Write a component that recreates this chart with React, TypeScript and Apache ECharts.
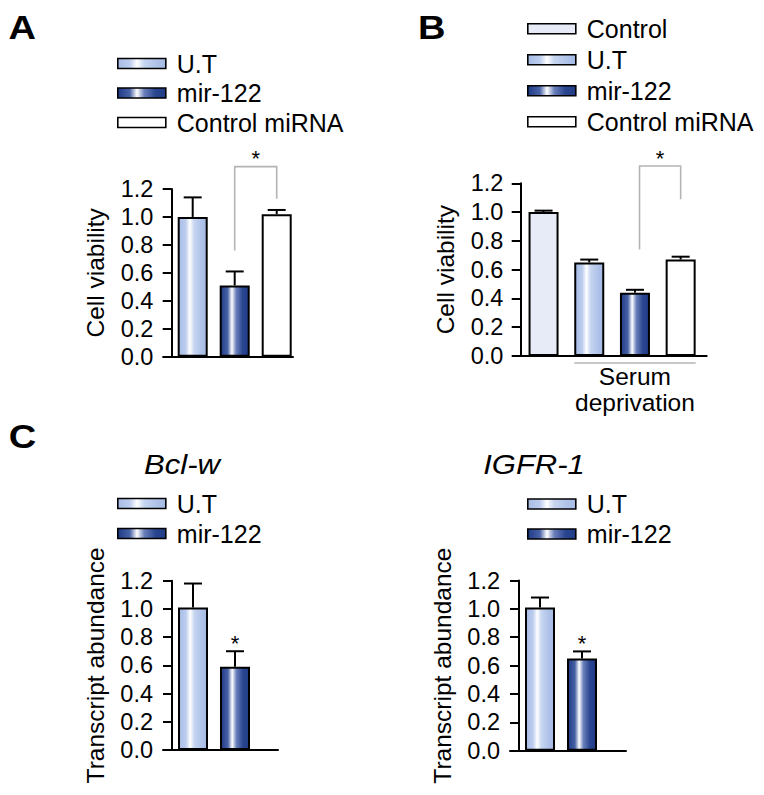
import React, { useEffect, useRef } from 'react';
import * as echarts from 'echarts';

const FONT = '"Liberation Sans", Arial, Helvetica, sans-serif';

// ---------- Data ----------
// Panel A
const panelACategories = ['U.T', 'mir-122', 'Control miRNA'];
const panelAValues = [1.0, 0.51, 1.02];
const panelAErrors = [0.14, 0.1, 0.03];
// bracket: [x1, x2, top, leftBottom, rightBottom] in data units
const panelABracket = [1.5, 2.5, 1.36, 0.76, 1.13];

// Panel B
const panelBCategories = ['Control', 'U.T', 'mir-122', 'Control miRNA'];
const panelBValues = [1.0, 0.65, 0.44, 0.67];
const panelBErrors = [0.01, 0.02, 0.02, 0.02];
const panelBBracket = [2.6, 3.5, 1.32, 0.74, 1.09];
const panelBGroup = [1.5, 3.5];
const panelBGroupLabel = 'Serum\ndeprivation';

// Panel C
const panelCCategories = ['U.T', 'mir-122'];
const bclwValues = [1.01, 0.59];
const bclwErrors = [0.17, 0.11];
const igfrValues = [1.01, 0.65];
const igfrErrors = [0.07, 0.05];
const panelCSignificant = [false, true];
const panelCTitles = ['Bcl-w', 'IGFR-1'];

const yTickLabels = ['0.0', '0.2', '0.4', '0.6', '0.8', '1.0', '1.2'];
const yAxisTitles = ['Cell viability', 'Cell viability', 'Transcript abundance', 'Transcript abundance'];
const panelLetters = ['A', 'B', 'C'];

// ---------- Styles ----------
const grad = (stops: [number, string][]) =>
  new echarts.graphic.LinearGradient(0, 0, 1, 0, stops.map(([offset, color]) => ({ offset, color })));

const FILLS: Record<string, any> = {
  'U.T': grad([
    [0, '#a6bbe5'],
    [0.25, '#bccdee'],
    [0.4, '#ffffff'],
    [0.55, '#c6d5f0'],
    [0.8, '#b0c3e9'],
    [1, '#a5bae4'],
  ]),
  'mir-122': grad([
    [0, '#1f3b86'],
    [0.25, '#4862a6'],
    [0.4, '#ffffff'],
    [0.55, '#6a80bb'],
    [0.78, '#2b4690'],
    [1, '#203c87'],
  ]),
  Control: '#e6ebf7',
  'Control miRNA': '#ffffff',
};

// pixel layout of each plotting panel
const layouts = [
  { left: 163.3, top: 189, right: 293, bottom: 356.7, axisX: 171.7, unit: 42 },
  { left: 513.3, top: 183.3, right: 706.7, bottom: 356, axisX: 520.7, unit: 45.7 },
  { left: 163, top: 580.7, right: 278, bottom: 750, axisX: 172, unit: 42 },
  { left: 510, top: 580.5, right: 626, bottom: 750.7, axisX: 519, unit: 42 },
];

const panels = [
  { cats: panelACategories, vals: panelAValues, errs: panelAErrors, sig: null as boolean[] | null },
  { cats: panelBCategories, vals: panelBValues, errs: panelBErrors, sig: null as boolean[] | null },
  { cats: panelCCategories, vals: bclwValues, errs: bclwErrors, sig: panelCSignificant },
  { cats: panelCCategories, vals: igfrValues, errs: igfrErrors, sig: panelCSignificant },
];

function buildOption() {
  const grid: any[] = [];
  const xAxis: any[] = [];
  const yAxis: any[] = [];
  const series: any[] = [];

  layouts.forEach((L, g) => {
    grid.push({ left: L.left, top: L.top, width: L.right - L.left, height: L.bottom - L.top });
    xAxis.push({
      gridIndex: g,
      type: 'value',
      min: (L.left - L.axisX) / L.unit,
      max: (L.right - L.axisX) / L.unit,
      axisLine: { show: true, onZero: true, lineStyle: { color: '#000', width: 2 } },
      axisTick: { show: false },
      axisLabel: { show: false },
      splitLine: { show: false },
    });
    yAxis.push({
      gridIndex: g,
      type: 'value',
      min: 0,
      max: 1.2,
      interval: 0.2,
      axisLine: { show: true, onZero: true, lineStyle: { color: '#000', width: 2 } },
      axisTick: { show: true, length: 9, lineStyle: { color: '#000', width: 2 } },
      axisLabel: {
        color: '#000',
        fontSize: 23.5,
        fontFamily: FONT,
        margin: 10,
        formatter: (v: number) => yTickLabels[Math.round(v / 0.2)],
      },
      splitLine: { show: false },
      name: yAxisTitles[g],
      nameLocation: 'middle',
      nameGap: 55,
      nameRotate: 90,
      nameTextStyle: { color: '#000', fontSize: 24.5, fontFamily: FONT },
    });

    const P = panels[g];
    P.cats.forEach((cat, i) => {
      series.push({
        type: 'bar',
        name: cat,
        xAxisIndex: g,
        yAxisIndex: g,
        data: [[i + 0.5, P.vals[i]]],
        barWidth: 30,
        barGap: '-100%',
        itemStyle: { color: FILLS[cat], borderColor: '#000', borderWidth: 2 },
        emphasis: { disabled: true },
        z: 2,
      });
    });

    // error bars (+ significance stars)
    series.push({
      type: 'custom',
      xAxisIndex: g,
      yAxisIndex: g,
      clip: false,
      z: 3,
      data: P.vals.map((v, i) => [i + 0.5, v, P.errs[i], P.sig && P.sig[i] ? 1 : 0]),
      encode: { x: 0, y: 1 },
      renderItem: (params: any, api: any) => {
        const x = api.value(0);
        const v = api.value(1);
        const e = api.value(2);
        const s = api.value(3);
        const p0 = api.coord([x, v]);
        const p1 = api.coord([x, v + e]);
        const st = { stroke: '#000', lineWidth: 2 };
        const children: any[] = [
          { type: 'line', shape: { x1: p0[0], y1: p0[1], x2: p1[0], y2: p1[1] }, style: st },
          { type: 'line', shape: { x1: p1[0] - 9, y1: p1[1], x2: p1[0] + 9, y2: p1[1] }, style: st },
        ];
        if (s) {
          children.push({
            type: 'text',
            style: {
              text: '*',
              x: p1[0],
              y: p1[1] - 8,
              align: 'center',
              verticalAlign: 'middle',
              fontSize: 22,
              fontFamily: FONT,
              fill: '#000',
            },
          });
        }
        return { type: 'group', children };
      },
    });
  });

  // significance brackets for A and B
  [panelABracket, panelBBracket].forEach((b, g) => {
    series.push({
      type: 'custom',
      xAxisIndex: g,
      yAxisIndex: g,
      clip: false,
      z: 3,
      data: [b],
      encode: { x: [0, 1], y: [2, 3, 4] },
      renderItem: (params: any, api: any) => {
        const x1 = api.value(0);
        const x2 = api.value(1);
        const top = api.value(2);
        const lb = api.value(3);
        const rb = api.value(4);
        const a = api.coord([x1, lb]);
        const bT = api.coord([x1, top]);
        const c = api.coord([x2, top]);
        const d = api.coord([x2, rb]);
        return {
          type: 'group',
          children: [
            {
              type: 'polyline',
              shape: { points: [a, bT, c, d] },
              style: { stroke: '#b4b4b4', lineWidth: 1.6, fill: 'none' },
            },
            {
              type: 'text',
              style: {
                text: '*',
                x: (bT[0] + c[0]) / 2,
                y: bT[1] - 8,
                align: 'center',
                verticalAlign: 'middle',
                fontSize: 22,
                fontFamily: FONT,
                fill: '#000',
              },
            },
          ],
        };
      },
    });
  });

  // group line + label under panel B
  series.push({
    type: 'custom',
    xAxisIndex: 1,
    yAxisIndex: 1,
    clip: false,
    z: 3,
    data: [panelBGroup],
    encode: { x: [0, 1] },
    renderItem: (params: any, api: any) => {
      const p1 = api.coord([api.value(0), 0]);
      const p2 = api.coord([api.value(1), 0]);
      const y = p1[1] + 7;
      return {
        type: 'group',
        children: [
          {
            type: 'line',
            shape: { x1: p1[0] - 15, y1: y, x2: p2[0] + 15, y2: y },
            style: { stroke: '#b4b4b4', lineWidth: 1.6 },
          },
          {
            type: 'text',
            style: {
              text: panelBGroupLabel,
              x: (p1[0] + p2[0]) / 2,
              y: y,
              align: 'center',
              verticalAlign: 'top',
              fontSize: 24.5,
              lineHeight: 26,
              fontFamily: FONT,
              fill: '#000',
            },
          },
        ],
      };
    },
  });

  const legendBase = {
    orient: 'vertical',
    icon: 'rect',
    padding: 0,
    itemWidth: 48,
    itemHeight: 10,
    selectedMode: false,
    itemStyle: { borderColor: '#000', borderWidth: 1.6 },
    textStyle: { color: '#000', fontSize: 25, fontFamily: FONT, lineHeight: 24, padding: [0, 0, 0, 6] },
  };

  const legend = [
    { ...legendBase, left: 117, top: 51, itemGap: 4.5, data: panelACategories },
    { ...legendBase, left: 527, top: 16.3, itemGap: 6, data: panelBCategories },
    { ...legendBase, left: 117, top: 491, itemGap: 5, data: panelCCategories },
    { ...legendBase, left: 527, top: 491.5, itemGap: 5, data: panelCCategories },
  ];

  const letterPos = [
    [22.3, 27.2],
    [431.7, 27.5],
    [22.5, 436.7],
  ];
  const titlePos = [
    [182, 464.6],
    [534, 464.5],
  ];

  const graphic: any[] = [
    ...panelLetters.map((t, i) => ({
      type: 'text',
      x: letterPos[i][0],
      y: letterPos[i][1],
      scaleX: 1.12,
      style: {
        text: t,
        fontSize: 34,
        fontWeight: 'bold',
        fontFamily: FONT,
        fill: '#000',
        align: 'center',
        verticalAlign: 'middle',
      },
    })),
    ...panelCTitles.map((t, i) => ({
      type: 'text',
      x: titlePos[i][0],
      y: titlePos[i][1],
      scaleX: 1.15,
      style: {
        text: t,
        fontSize: 27,
        fontStyle: 'italic',
        fontFamily: FONT,
        fill: '#000',
        align: 'center',
        verticalAlign: 'middle',
      },
    })),
  ];

  return {
    animation: false,
    backgroundColor: '#ffffff',
    grid,
    xAxis,
    yAxis,
    legend,
    series,
    graphic,
  };
}

export default function App() {
  const ref = useRef<HTMLDivElement>(null);
  useEffect(() => {
    if (!ref.current) return;
    const chart = echarts.init(ref.current, undefined, { renderer: 'svg' });
    chart.setOption(buildOption() as any);
    return () => chart.dispose();
  }, []);
  return (
    <div
      ref={ref}
      style={{ position: 'absolute', left: 0, top: 0, width: 764, height: 795, background: '#fff' }}
    />
  );
}
